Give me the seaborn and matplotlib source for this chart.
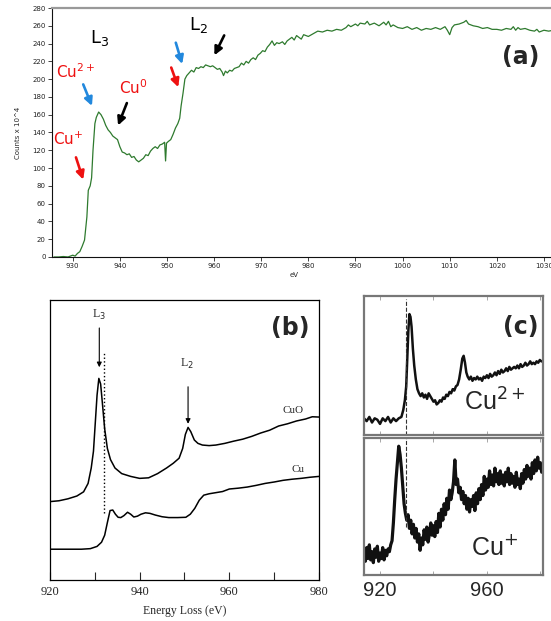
import matplotlib
matplotlib.use("Agg")
import matplotlib.pyplot as plt
import seaborn as sns

# ---- panel (a): Cu L-edge EELS, counts x 10^4 vs eV ----
energy_a = [926, 927, 928, 929, 929.5, 930, 930.5, 931, 931.5, 932, 932.5, 933, 933.3, 933.7, 934,
            934.3, 934.7, 935, 935.5, 936, 936.5, 937, 937.5, 938, 938.5, 939, 939.5, 940, 940.5,
            941, 941.5, 942, 942.5, 943, 943.5, 944, 944.5, 945, 945.5, 946, 946.5, 947, 947.5,
            948, 948.5, 949, 949.5, 949.7, 949.9, 950.3, 950.8, 951.3, 951.8, 952.3, 952.7, 953,
            953.4, 953.8, 954.2, 954.7, 955.2, 955.7, 956.2, 956.7, 957.2, 957.7, 958.2, 958.7,
            959.2, 959.7, 960.2, 960.7, 961.2, 961.7, 962, 962.4, 962.8, 963.3, 963.8, 964.3,
            964.8, 965.3, 965.8, 966.3, 966.8, 967.3, 967.8, 968.3, 968.8, 969.3, 969.8, 970.3,
            970.8, 971.3, 971.8, 972.3, 972.8, 973.3, 973.8, 974.5, 975, 975.5, 976, 976.5, 977,
            977.5, 978, 978.5, 979, 979.5, 980, 981, 982, 983, 984, 985, 986, 987, 988, 988.5,
            989, 990, 990.5, 991, 992, 992.5, 993, 994, 995, 995.5, 996, 996.5, 997, 997.5, 998,
            999, 1000, 1001, 1002, 1003, 1004, 1005, 1006, 1007, 1008, 1009, 1009.5, 1010,
            1010.5, 1011, 1012, 1013, 1013.5, 1014, 1015, 1016, 1017, 1018, 1019, 1020, 1021,
            1022, 1023, 1023.5, 1024, 1024.5, 1025, 1026, 1027, 1028, 1028.5, 1029, 1030, 1031,
            1032]
counts_a = [0, 0, 0.5, 0, 1, 2, 1, 4, 6, 12, 19, 45, 75, 80, 89,
            120, 150, 157, 163, 160, 155, 148, 143, 140, 136, 134, 132, 124, 118,
            117, 115, 116, 112, 113, 109, 107, 109, 111, 115, 114, 119, 122, 124,
            122, 126, 127, 129, 108, 128, 130, 132, 138, 145, 150, 156, 170,
            184, 200, 204, 207, 210, 208, 213, 212, 214, 213, 216, 215,
            214, 215, 213, 211, 212, 208, 204, 209, 207, 210, 209, 212,
            213, 214, 218, 216, 220, 218, 222, 224, 222, 227, 229, 232,
            231, 236, 239, 243, 238, 241, 240, 242, 239, 243, 245, 247, 244,
            249, 247, 245, 250, 249, 248, 251, 254, 253, 255, 254, 256, 255, 258, 261,
            259, 262, 260, 263, 262, 265, 261, 263, 260, 262, 264, 261, 265, 259, 261,
            258, 257, 259, 256, 258, 255, 257, 256, 258, 256, 259, 255, 250,
            258, 261, 262, 264, 266, 262, 260, 259, 257, 258, 256, 256, 255,
            257, 256, 259, 255, 258, 256, 257, 255, 254, 256, 253, 255, 254,
            255]

# ---- panel (b): CuO and Cu reference spectra (arb. units) ----
energy_cuo = [920, 922, 924, 926, 927.5, 928.5, 929.2, 929.7, 930.1, 930.5, 930.9, 931.3, 931.7,
              932.2, 932.8, 933.5, 934.5, 936, 938, 940, 942, 944, 946, 947.5, 948.8, 949.6,
              950.2, 950.8, 951.4, 952.2, 953, 954, 955.5, 957, 959, 961, 963, 965, 967, 969,
              971, 973, 975, 977, 978.5, 980]
signal_cuo = [28, 28.3, 29, 30, 31.5, 34.5, 40, 46, 56, 66, 72, 70, 63,
              54, 47, 43, 40, 38, 37, 36.3, 36.5, 38, 40, 41.7, 43.5, 47,
              52, 54.5, 53, 50, 48.8, 48.2, 48, 48.2, 48.8, 49.6, 50.3, 51.3, 52.5, 53.5,
              55, 55.8, 56.8, 57.5, 58.3, 58.2]
energy_cu = [920, 924, 927, 929, 930.5, 931.5, 932.2, 932.8, 933.4, 934, 934.6, 935.2, 935.8,
             936.5, 937.3, 938, 938.7, 939.5, 940.3, 941.3, 942.3, 943.5, 945, 946.5, 948.5,
             950.3, 951.3, 952.3, 953.3, 954.3, 955.5, 957, 958.5, 960, 962, 964, 966, 968,
             970, 972, 974, 976, 978, 980]
signal_cu = [11, 11, 11, 11.2, 12, 13.5, 16, 20.5, 24.8, 25, 23.5, 22.4, 22.3,
             23, 24.2, 23.5, 22.5, 22.8, 23.5, 24, 23.8, 23.2, 22.6, 22.3, 22.3,
             22.4, 23.5, 25.6, 28.5, 30.3, 30.8, 31.2, 31.6, 32.5, 32.8, 33.2, 33.8, 34.5,
             35, 35.6, 36, 36.3, 36.7, 37]

# ---- panel (c): Cu2+ and Cu+ spectra ----
energy_cu2 = [914, 915, 916, 917, 918, 919, 920, 921, 922, 923, 924, 925, 926, 927, 928, 928.7,
              929.3, 929.8, 930.2, 930.6, 931, 931.4, 931.8, 932.3, 932.8, 933.4, 934, 934.6,
              935.2, 935.8, 936.4, 937, 937.6, 938.2, 938.8, 939.4, 940, 940.6, 941.2, 941.8,
              942.4, 943, 943.6, 944.2, 944.8, 945.4, 946, 946.6, 947.2, 947.8, 948.4, 949,
              949.6, 950.2, 950.8, 951.3, 951.8, 952.3, 952.8, 953.4, 954, 954.6, 955.2, 955.8,
              956.4, 957, 957.6, 958.2, 958.8, 959.4, 960, 960.6, 961.2, 961.8, 962.4, 963,
              963.6, 964.2, 964.8, 965.4, 966, 966.6, 967.2, 967.8, 968.4, 969, 969.6, 970.2,
              970.8, 971.4, 972, 972.6, 973.2, 973.8, 974.4, 975, 975.6, 976.2, 976.8, 977.4,
              978, 978.6, 979.2, 979.8, 980.4, 981]
signal_cu2 = [12, 10, 13, 9, 12, 11, 8, 12, 10, 13, 9, 12, 10, 12, 13, 18,
              25, 35, 55, 75, 87, 85, 78, 62, 50, 40, 33, 30,
              28, 30, 27, 29, 26, 30, 28, 26, 24, 25, 22, 23,
              25, 24, 27, 26, 29, 28, 31, 30, 33, 32, 35, 36,
              40, 47, 55, 57, 52, 45, 42, 40, 42, 39, 41, 40,
              42, 40, 41, 39, 42, 41, 43, 41, 44, 42, 43, 45,
              43, 46, 44, 47, 45, 46, 48, 46, 49, 47, 48, 49,
              48, 50, 48, 51, 49, 50, 52, 50, 51, 53, 51, 52,
              51, 53, 52, 54, 53, 53]
energy_cu1 = [914, 914.5, 915, 915.5, 916, 916.5, 917, 917.5, 918, 918.5, 919, 919.5, 920, 920.5,
              921, 921.5, 922, 922.5, 923, 923.5, 924, 924.5, 925, 925.5, 926, 926.5, 927,
              927.5, 928, 928.5, 929, 929.5, 930, 930.5, 931, 931.5, 932, 932.5, 933, 933.5,
              934, 934.5, 935, 935.5, 936, 936.5, 937, 937.5, 938, 938.5, 939, 939.5, 940,
              940.5, 941, 941.5, 942, 942.5, 943, 943.5, 944, 944.5, 945, 945.5, 946, 946.5,
              947, 947.5, 948, 948.5, 949, 949.5, 950, 950.5, 951, 951.5, 952, 952.5, 953,
              953.5, 954, 954.5, 955, 955.5, 956, 956.5, 957, 957.5, 958, 958.5, 959, 959.5,
              960, 960.5, 961, 961.5, 962, 962.5, 963, 963.5, 964, 964.5, 965, 965.5, 966,
              966.5, 967, 967.5, 968, 968.5, 969, 969.5, 970, 970.5, 971, 971.5, 972, 972.5,
              973, 973.5, 974, 974.5, 975, 975.5, 976, 976.5, 977, 977.5, 978, 978.5, 979,
              979.5, 980, 980.5, 981]
signal_cu1 = [18, 10, 20, 12, 22, 11, 17, 9, 19, 13, 21, 10, 16, 12,
              20, 11, 18, 14, 19, 17, 22, 25, 38, 55, 70, 82, 94,
              88, 78, 65, 52, 45, 40, 44, 34, 40, 30, 37, 27, 34,
              24, 30, 18, 27, 22, 33, 26, 35, 24, 30, 38, 29, 36,
              28, 39, 31, 45, 35, 48, 40, 52, 44, 56, 48, 62, 55,
              60, 68, 84, 66, 70, 60, 64, 55, 61, 52, 58, 48, 56,
              46, 55, 50, 58, 47, 60, 52, 63, 55, 66, 58, 72, 62,
              70, 64, 76, 66, 73, 65, 78, 68, 74, 66, 76, 67, 73,
              65, 75, 68, 78, 66, 74, 67, 72, 64, 75, 66, 70, 63,
              74, 67, 77, 70, 80, 72, 78, 70, 82, 74, 84, 76, 86,
              78, 82, 75, 80]

sns.set_theme(style="white")
plt.rcParams["font.family"] = ["DejaVu Sans"]

fig = plt.figure(figsize=(5.51, 6.21), dpi=100)

# ================= (a) =================
ax_a = fig.add_axes([0.0944, 0.5862, 0.9056, 0.4009])
sns.lineplot(x=energy_a, y=counts_a, ax=ax_a, color="#2e7a2e", lw=0.9, estimator=None)
ax_a.set_xlim(925.6, 1031.5)
ax_a.set_ylim(0, 280)
ax_a.set_xticks(range(930, 1031, 10))
ax_a.set_yticks(range(0, 281, 20))
ax_a.tick_params(labelsize=5, colors="#222", length=3, width=0.6, direction="out", pad=1.5)
ax_a.tick_params(axis="both", bottom=True, left=True)
for s in ("left", "bottom"):
    ax_a.spines[s].set_color("#111")
    ax_a.spines[s].set_linewidth(0.8)
ax_a.spines["top"].set_color("#999")
ax_a.spines["top"].set_linewidth(1.6)
ax_a.spines["right"].set_visible(False)
ax_a.set_ylabel("Counts x 10^4", fontsize=5, labelpad=8)
ax_a.set_xlabel("eV", fontsize=5, labelpad=3)
ax_a.xaxis.set_label_coords(0.485, -0.06)

ax_a.text(935.8, 246, "L$_3$", fontsize=13, ha="center", va="center", color="black")
ax_a.text(956.6, 261, "L$_2$", fontsize=13, ha="center", va="center", color="black")
ax_a.text(930.5, 208, "Cu$^{2+}$", fontsize=11, ha="center", va="center", color="#ee1111")
ax_a.text(942.8, 190, "Cu$^{0}$", fontsize=11, ha="center", va="center", color="#ee1111")
ax_a.text(929.0, 132, "Cu$^{+}$", fontsize=11, ha="center", va="center", color="#ee1111")

arrows = [
    ((932.0, 197), (934.3, 167), "#2288dd"),
    ((941.7, 176), (939.4, 145), "black"),
    ((930.5, 115), (932.4, 84), "#ee1111"),
    ((951.7, 244), (953.4, 214), "#2288dd"),
    ((950.7, 216), (952.6, 188), "#ee1111"),
    ((962.4, 252), (959.8, 224), "black"),
]
for tail, head, col in arrows:
    ax_a.annotate("", xy=head, xytext=tail,
                  arrowprops=dict(arrowstyle="-|>", color=col, lw=1.9, mutation_scale=12))
ax_a.text(1025, 225, "(a)", fontsize=17, fontweight="bold", ha="center", va="center")

# ================= (b) =================
serif = ["Liberation Serif", "DejaVu Serif"]
ax_b = fig.add_axes([0.0907, 0.066, 0.4882, 0.4509])
sns.lineplot(x=energy_cuo, y=signal_cuo, ax=ax_b, color="black", lw=1.1, estimator=None)
sns.lineplot(x=energy_cu, y=signal_cu, ax=ax_b, color="black", lw=1.1, estimator=None)
ax_b.vlines(932.1, 23.8, 81, colors="black", linestyles=":", lw=1.0)
ax_b.set_xlim(920, 980)
ax_b.set_ylim(0, 100)
ax_b.set_xticks(range(920, 981, 10))
ax_b.set_xticklabels(["920", "", "940", "", "960", "", "980"], family=serif, fontsize=9)
ax_b.set_yticks([])
ax_b.tick_params(axis="x", bottom=True, direction="in", length=6, width=0.8, pad=4)
for s in ax_b.spines.values():
    s.set_color("black")
    s.set_linewidth(0.9)
ax_b.set_xlabel("Energy Loss (eV)", family=serif, fontsize=8.5, labelpad=5)
ax_b.annotate("", xy=(931.0, 75), xytext=(931.0, 91),
              arrowprops=dict(arrowstyle="-|>", color="black", lw=0.8, mutation_scale=7))
ax_b.annotate("", xy=(950.8, 54.8), xytext=(950.8, 70),
              arrowprops=dict(arrowstyle="-|>", color="black", lw=0.8, mutation_scale=7))
ax_b.text(931.0, 94.5, "L$_3$", family=serif, fontsize=8.5, ha="center", va="center")
ax_b.text(950.6, 77, "L$_2$", family=serif, fontsize=8.5, ha="center", va="center")
ax_b.text(974.2, 60.7, "CuO", family=serif, fontsize=8, ha="center", va="center")
ax_b.text(975.3, 39.3, "Cu", family=serif, fontsize=8, ha="center", va="center")
ax_b.text(973.5, 90, "(b)", fontsize=17, fontweight="bold", ha="center", va="center")

# ================= (c) =================
sans = ["Liberation Sans", "DejaVu Sans"]
ax_c1 = fig.add_axes([0.6606, 0.2995, 0.3249, 0.2238])
ax_c2 = fig.add_axes([0.6606, 0.0741, 0.3249, 0.2206])
sns.lineplot(x=energy_cu2, y=signal_cu2, ax=ax_c1, color="#111", lw=1.8, estimator=None)
sns.lineplot(x=energy_cu1, y=signal_cu1, ax=ax_c2, color="#111", lw=2.3, estimator=None)
for ax in (ax_c1, ax_c2):
    ax.set_xlim(914, 981)
    ax.set_ylim(0, 100)
    ax.set_yticks([])
    ax.set_xticks(range(920, 981, 20))
    ax.tick_params(axis="x", bottom=True, top=True, direction="in", length=3,
                   width=0.6, color="#999")
    for s in ax.spines.values():
        s.set_color("#777")
        s.set_linewidth(1.6)
ax_c1.set_xticklabels([])
ax_c2.set_xticklabels(["920", "", "960", ""], family=sans, fontsize=14.5)
ax_c2.tick_params(axis="x", pad=4)
ax_c1.axvline(929.7, color="#333", ls="--", lw=0.8, ymin=0.0, ymax=0.98)
ax_c2.axvline(929.7, color="#333", ls="--", lw=0.8, ymin=0.35, ymax=1.0)
ax_c1.text(963, 24, "Cu$^{2+}$", family=sans, fontsize=18, ha="center", va="center")
ax_c2.text(963, 20, "Cu$^{+}$", family=sans, fontsize=18, ha="center", va="center")
ax_c1.text(972.5, 78, "(c)", fontsize=17, fontweight="bold", ha="center", va="center")

fig.savefig("out.png", dpi=100)
